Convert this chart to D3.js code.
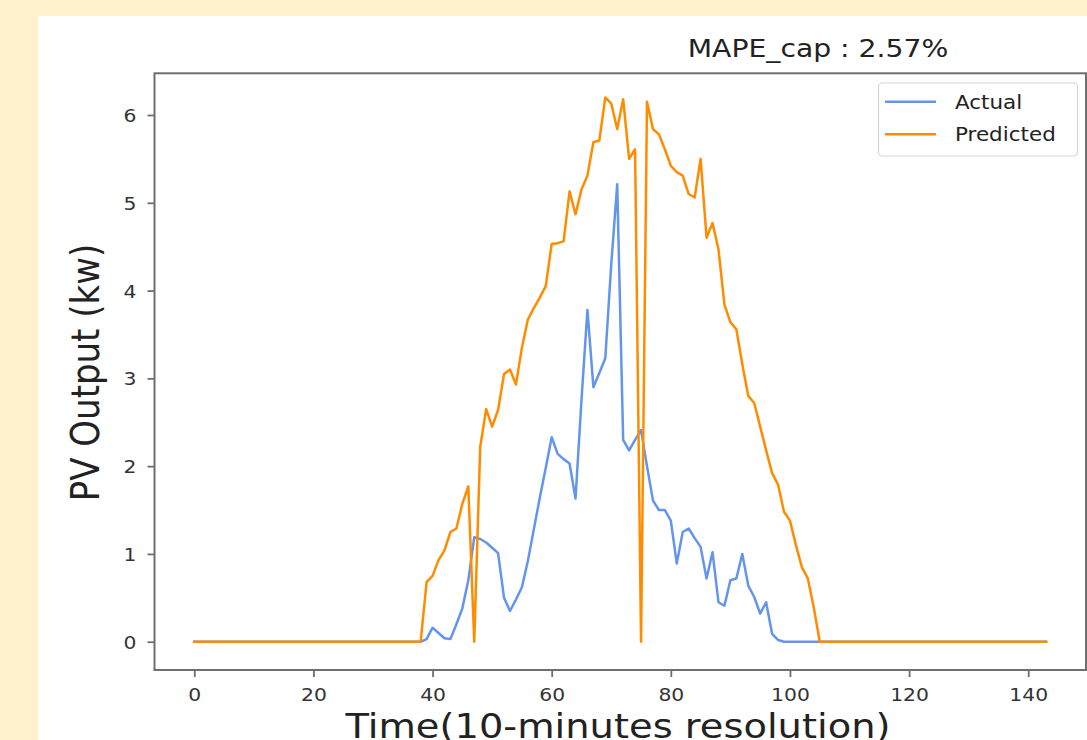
<!DOCTYPE html>
<html><head><meta charset="utf-8">
<script src="https://cdn.jsdelivr.net/npm/d3@7/dist/d3.min.js"></script>
<style>body{margin:0;background:#fff2cc;} svg{display:block}</style>
</head><body>
<svg id="c" width="1087" height="740"></svg>
<script>
// ---------------- data ----------------
const timeIndex = d3.range(144);
const actual = [
  0,0,0,0,0,0,0,0,0,0, 0,0,0,0,0,0,0,0,0,0, 0,0,0,0,0,0,0,0,0,0, 0,0,0,0,0,0,0,0,0,
  0.03,0.16,0.10,0.04,0.03,0.20,0.38,0.70,1.19,1.17,
  1.13,1.07,1.01,0.50,0.35,0.48,0.62,0.92,1.28,1.64,
  1.98,2.33,2.14,2.08,2.03,1.63,2.75,3.78,2.90,3.06,
  3.23,4.30,5.21,2.30,2.18,2.30,2.41,2.00,1.61,1.50,
  1.50,1.38,0.89,1.25,1.29,1.18,1.08,0.72,1.02,0.45,
  0.41,0.70,0.72,1.00,0.64,0.51,0.32,0.45,0.09,0.02,
  0,0,0,0,0,0,0,0,0,0, 0,0,0,0,0,0,0,0,0,0, 0,0,0,0,0,0,0,0,0,0, 0,0,0,0,0,0,0,0,0,0, 0,0,0,0,0
];
const predicted = [
  0,0,0,0,0,0,0,0,0,0, 0,0,0,0,0,0,0,0,0,0, 0,0,0,0,0,0,0,0,0,0, 0,0,0,0,0,0,0,0,0,
  0.68,0.75,0.93,1.04,1.25,1.29,1.57,1.77,0,2.22,
  2.65,2.45,2.64,3.05,3.10,2.93,3.35,3.67,3.80,3.92,
  4.05,4.53,4.54,4.56,5.13,4.87,5.15,5.31,5.69,5.71,
  6.20,6.13,5.84,6.18,5.50,5.61,0,6.15,5.84,5.78,
  5.61,5.42,5.35,5.31,5.10,5.06,5.50,4.60,4.77,4.47,
  3.84,3.64,3.56,3.16,2.80,2.72,2.45,2.18,1.92,1.79,
  1.48,1.38,1.10,0.85,0.72,0.39,
  0,0,0,0,0,0,0,0,0,0, 0,0,0,0,0,0,0,0,0,0, 0,0,0,0,0,0,0,0,0,0, 0,0,0,0,0,0,0,0,0
];
const xTicks = [0,20,40,60,80,100,120,140];
const yTicks = [0,1,2,3,4,5,6];
const seriesNames = ["Actual","Predicted"];
const seriesColors = ["#6495ED","#FF8C00"];
const titleText = "MAPE_cap : 2.57%";
const xLabelText = "Time(10-minutes resolution)";
const yLabelText = "PV Output (kw)";

// ---------------- layout ----------------
const FONT = "DejaVu Sans";
const SX = 1.13; // horizontal stretch of the reference image
const svg = d3.select("#c");
svg.append("rect").attr("width",1087).attr("height",740).attr("fill","#fff2cc");
svg.append("rect").attr("x",38).attr("y",16).attr("width",1087-38).attr("height",740-16).attr("fill","#ffffff");

const L = 154.5, R = 1086, T = 73.3, B = 670;
const x = d3.scaleLinear().domain([-6.68, 149.7]).range([L, R]);
const y = d3.scaleLinear().domain([-0.322, 6.475]).range([B, T]);

const axisColor = "#6e6e6e";
const tickTextColor = "#333";

// x axis
const gx = svg.append("g").attr("transform",`translate(0,${B})`)
  .call(d3.axisBottom(x).tickValues(xTicks).tickFormat(d3.format("d")).tickSize(7).tickSizeOuter(0));
gx.select(".domain").remove();
gx.selectAll(".tick line").attr("stroke",axisColor).attr("stroke-width",1.8);
gx.selectAll(".tick text").attr("font-family",FONT).attr("font-size",18)
  .attr("fill",tickTextColor).attr("y",31).attr("dy",null)
  .attr("transform",`scale(${SX},1)`);

// y axis
const gy = svg.append("g").attr("transform",`translate(${L},0)`)
  .call(d3.axisLeft(y).tickValues(yTicks).tickFormat(d3.format("d")).tickSize(7).tickSizeOuter(0));
gy.select(".domain").remove();
gy.selectAll(".tick line").attr("stroke",axisColor).attr("stroke-width",1.8);
gy.selectAll(".tick text").attr("font-family",FONT).attr("font-size",18)
  .attr("fill",tickTextColor).attr("x",-16).attr("dy","0.36em")
  .attr("transform",`scale(${SX},1)`);

// lines
const line = d3.line().x((d,i)=>x(timeIndex[i])).y(d=>y(d));
[actual, predicted].forEach((s,k)=>{
  svg.append("path").datum(s).attr("d",line).attr("fill","none")
    .attr("stroke",seriesColors[k]).attr("stroke-width",2.5)
    .attr("stroke-linejoin","round").attr("stroke-linecap","square");
});

// spines
svg.append("rect").attr("x",L).attr("y",T).attr("width",R-L).attr("height",B-T)
  .attr("fill","none").attr("stroke",axisColor).attr("stroke-width",2);

// title
svg.append("text").attr("transform",`translate(818,57) scale(${SX},1)`)
  .attr("text-anchor","middle").attr("font-family",FONT).attr("font-size",25)
  .attr("fill","#222").text(titleText);

// axis labels
svg.append("text").attr("transform",`translate(618,738) scale(${SX},1)`)
  .attr("text-anchor","middle").attr("font-family",FONT).attr("font-size",34)
  .attr("fill","#222").text(xLabelText);
svg.append("text").attr("transform",`translate(99,372.5) scale(${SX},1) rotate(-90)`)
  .attr("text-anchor","middle").attr("font-family",FONT).attr("font-size",34)
  .attr("fill","#222").text(yLabelText);

// legend
const lg = svg.append("g");
lg.append("rect").attr("x",878.5).attr("y",83).attr("width",199).attr("height",73)
  .attr("rx",4).attr("fill","rgba(255,255,255,0.8)").attr("stroke","#d5d5d5").attr("stroke-width",1.2);
seriesNames.forEach((n,k)=>{
  const yy = 101.7 + k*32.6;
  lg.append("line").attr("x1",885).attr("x2",936).attr("y1",yy).attr("y2",yy)
    .attr("stroke",seriesColors[k]).attr("stroke-width",2.5);
  lg.append("text").attr("transform",`translate(955,${yy+7}) scale(${SX},1)`)
    .attr("font-family",FONT).attr("font-size",19).attr("fill","#222").text(n);
});
</script>
</body></html>
